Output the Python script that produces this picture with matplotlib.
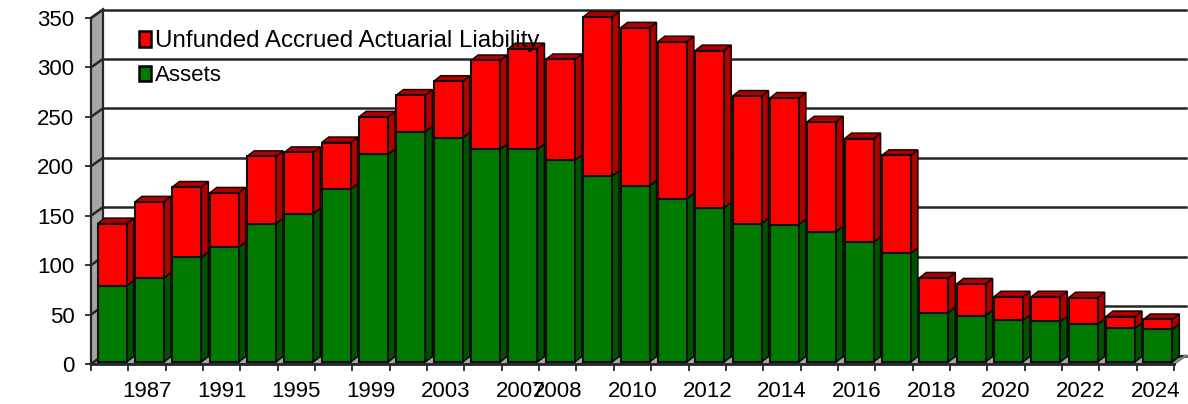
import matplotlib
matplotlib.use("Agg")
import matplotlib.pyplot as plt
from matplotlib.patches import Polygon, Patch
import numpy as np

plt.rcParams['font.family'] = ['Liberation Sans', 'DejaVu Sans']

years = ['1985','1987','1989','1991','1993','1995','1997','1999','2001','2003','2005','2007',
         '2008','2009','2010','2011','2012','2013','2014','2015','2016','2017','2018','2019',
         '2020','2021','2022','2023','2024']
assets = [77,85,106,116,140,150,175,210,233,227,215,215,204,188,178,165,156,140,139,132,121,110,50,47,42,41,38,34,33]
totals = [140,162,177,171,208,212,222,248,270,284,305,317,306,349,338,324,315,269,267,243,226,209,85,79,66,66,65,46,43]
unfunded = [t - a for t, a in zip(totals, assets)]
shown_labels = ['1987','1991','1995','1999','2003','2007','2008','2010','2012','2014','2016','2018','2020','2022','2024']
yticks = [0,50,100,150,200,250,300,350]

W, H = 1188, 404
L, R, T, B = 91, 1174, 18, 364
fig = plt.figure(figsize=(W/100, H/100), dpi=100, facecolor='white')
ax = fig.add_axes([L/W, 1-B/H, (R-L)/W, (B-T)/H])
n = len(years)
ax.set_xlim(-0.5, n-0.5)
ax.set_ylim(0, 350)
ax.patch.set_visible(False)
for s in ax.spines.values():
    s.set_visible(False)

px = (n)/(R-L)          # data x per pixel
py = 350/(B-T)          # data y per pixel
DX, DY = 12*px, 8.5*py  # chart depth
ink = '#262626'

def poly(pts, fc, ec=ink, lw=1.6, z=1):
    ax.add_patch(Polygon(pts, closed=True, facecolor=fc, edgecolor=ec, lw=lw, clip_on=False, zorder=z, joinstyle='miter'))

x0, x1 = -0.5, n-0.5
# side wall and floor
poly([(x0,0),(x0+DX,DY),(x0+DX,350+DY),(x0,350)], '#a6a6a6', z=1)
poly([(x0,0),(x0+DX,DY),(x1+DX,DY),(x1,0)], '#a6a6a6', ec='#606060', lw=1.0, z=1)
# back wall gridlines
for v in yticks:
    ax.plot([x0, x0+DX], [v, v+DY], color=ink, lw=1.8, clip_on=False, zorder=2)
    ax.plot([x0+DX, x1+DX], [v+DY, v+DY], color=ink, lw=1.8, clip_on=False, zorder=2)

# bars
bw = 29*px
bx, by = 7*px, 5.5*py       # bar depth
ox, oy = 2.5*px, 2*py       # bar offset from front plane
xs = np.arange(n)
for i in range(n):
    a, t = assets[i], totals[i]
    l = xs[i]-bw/2+ox
    r = l+bw
    b = oy
    z = 3+i*0.01
    poly([(r,b),(r+bx,b+by),(r+bx,a+oy+by),(r,a+oy)], '#005200', ec='#0a0a0a', lw=1.1, z=z)
    poly([(r,a+oy),(r+bx,a+oy+by),(r+bx,t+oy+by),(r,t+oy)], '#b00000', ec='#200000', lw=1.1, z=z)
    poly([(l,t+oy),(l+bx,t+oy+by),(r+bx,t+oy+by),(r,t+oy)], '#b00000', ec='#200000', lw=1.1, z=z)
    ax.bar(xs[i]+ox, a, bw, bottom=oy, color='#007a00', edgecolor='#101010', lw=1.5, zorder=z+0.001, clip_on=False)
    ax.bar(xs[i]+ox, t-a, bw, bottom=a+oy, color='#ff0000', edgecolor='#101010', lw=1.5, zorder=z+0.001, clip_on=False)

# axes ticks
FS = 16
ax.set_yticks(yticks)
ax.set_yticklabels([str(v) for v in yticks], fontsize=FS)
ax.tick_params(axis='y', length=4.5, width=1.3, color=ink, pad=7.5)
ax.set_xticks(np.arange(-0.5, n, 1), minor=True)
ax.set_xticks([years.index(y) for y in shown_labels])
ax.set_xticklabels(shown_labels, fontsize=FS)
ax.tick_params(axis='x', which='major', length=0, pad=12)
ax.tick_params(axis='x', which='minor', length=5, width=1.3, color=ink)
ax.plot([x0, x1], [0, 0], color=ink, lw=2, clip_on=False, zorder=6)
ax.plot([x1, x1+DX], [0, DY], color='#808080', lw=1.5, clip_on=False, zorder=2)

leg = ax.legend(handles=[Patch(facecolor='#ff0000', edgecolor='black', lw=1.8, label='Unfunded Accrued Actuarial Liability'),
                         Patch(facecolor='#007a00', edgecolor='black', lw=1.8, label='Assets')],
                loc='upper left', bbox_to_anchor=((139-L)/(R-L), 1-(30-T)/(B-T)), borderaxespad=0, borderpad=0,
                frameon=False, fontsize=FS, labelspacing=0.6, handlelength=0.55, handleheight=0.7, handletextpad=0.17)
leg.get_texts()[0].set_fontsize(17.4)
leg.set_zorder(20)

fig.savefig('out.png', dpi=100, facecolor='white')
